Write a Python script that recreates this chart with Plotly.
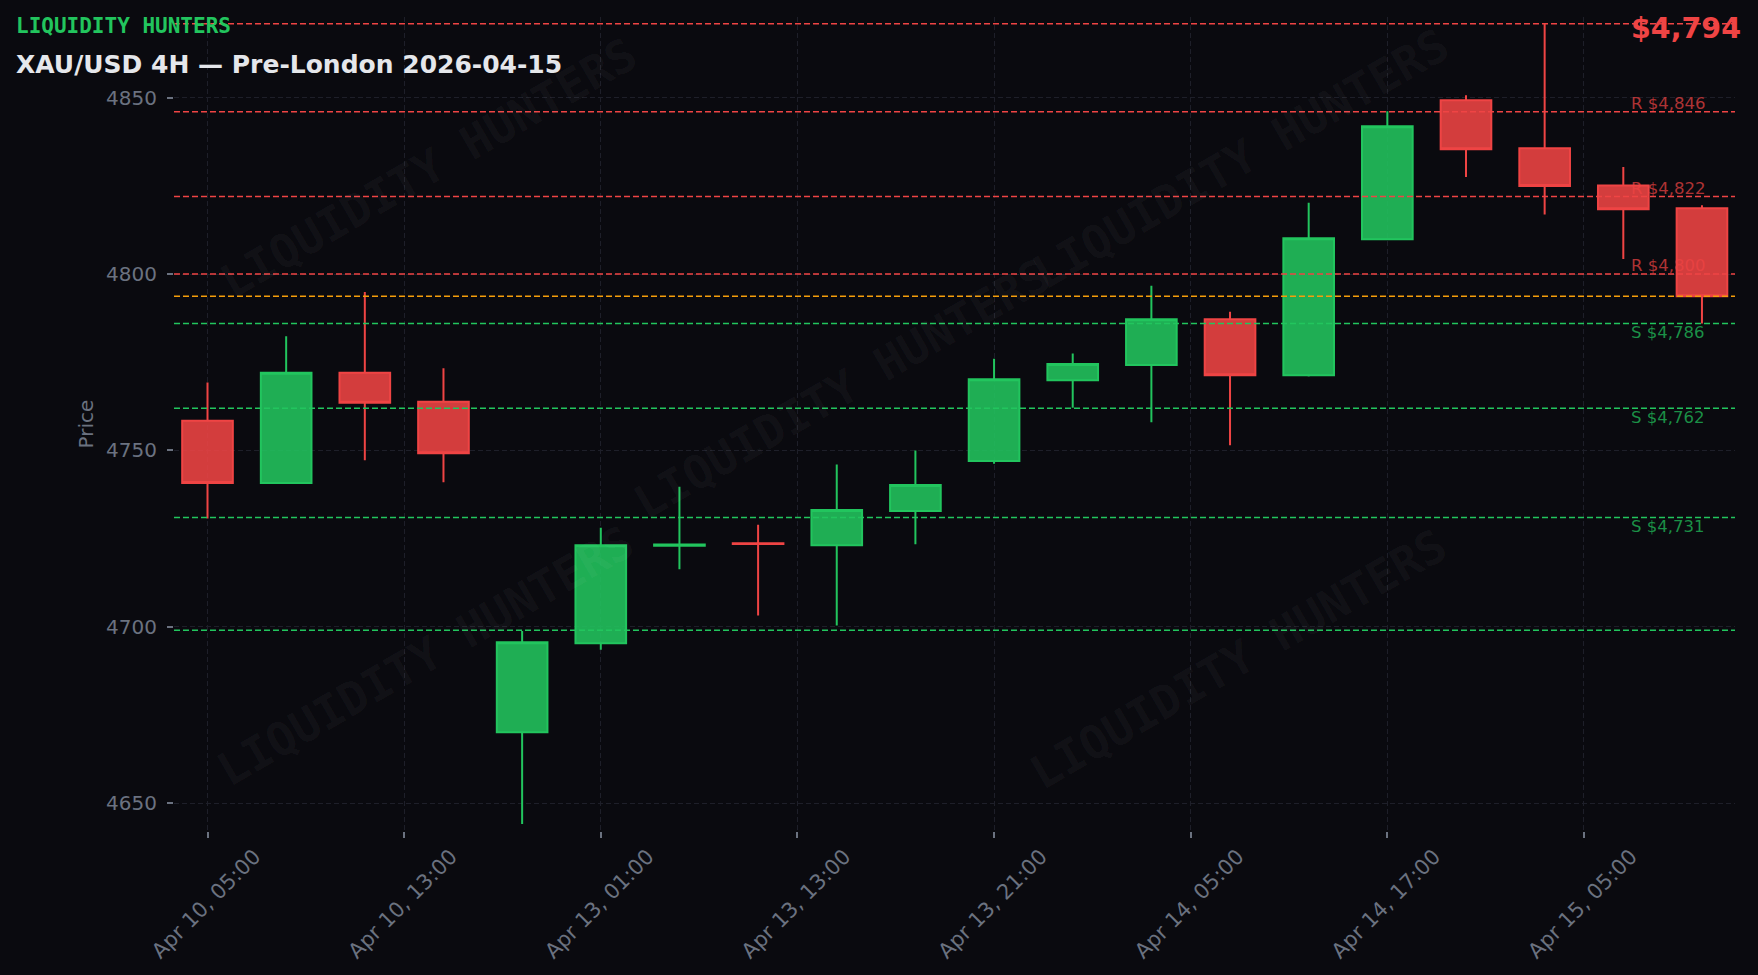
import plotly.graph_objects as go

# ---------------- data ----------------
candle_times = [
    "2026-04-10 05:00", "2026-04-10 09:00", "2026-04-10 13:00", "2026-04-10 17:00",
    "2026-04-12 21:00", "2026-04-13 01:00", "2026-04-13 05:00", "2026-04-13 09:00",
    "2026-04-13 13:00", "2026-04-13 17:00", "2026-04-13 21:00", "2026-04-14 01:00",
    "2026-04-14 05:00", "2026-04-14 09:00", "2026-04-14 13:00", "2026-04-14 17:00",
    "2026-04-14 21:00", "2026-04-15 01:00", "2026-04-15 05:00", "2026-04-15 09:00",
]
opens = [4758.4, 4740.8, 4772.0, 4763.8, 4670.1, 4695.3, 4723.0, 4723.7, 4723.1, 4732.8,
         4747.0, 4769.9, 4774.2, 4787.2, 4771.3, 4809.9, 4849.3, 4835.7, 4825.1, 4818.7]
highs = [4769.3, 4782.4, 4794.9, 4773.3, 4698.8, 4728.1, 4739.7, 4728.9, 4746.0, 4750.0,
         4776.0, 4777.5, 4796.7, 4789.3, 4820.2, 4846.2, 4850.7, 4870.9, 4830.4, 4819.5]
lows = [4730.7, 4740.5, 4747.2, 4741.0, 4644.1, 4693.5, 4716.3, 4703.2, 4700.4, 4723.4,
        4746.2, 4762.1, 4758.0, 4751.5, 4771.0, 4809.6, 4827.5, 4816.9, 4804.3, 4786.0]
closes = [4740.8, 4772.0, 4763.5, 4749.2, 4695.6, 4723.1, 4723.3, 4723.5, 4733.1, 4740.2,
          4770.2, 4774.5, 4787.2, 4771.3, 4810.2, 4841.9, 4835.4, 4825.0, 4818.4, 4793.7]

resistance_levels = [4846, 4822, 4800]
support_levels = [4786, 4762, 4731]
swing_high = 4871
swing_low = 4699
current_price = 4793.7

tick_index = [0, 2.5, 5, 7.5, 10, 12.5, 15, 17.5]
tick_labels = ["Apr 10, 05:00", "Apr 10, 13:00", "Apr 13, 01:00", "Apr 13, 13:00",
               "Apr 13, 21:00", "Apr 14, 05:00", "Apr 14, 17:00", "Apr 15, 05:00"]
y_ticks = [4650, 4700, 4750, 4800, 4850]

brand = "LIQUIDITY HUNTERS"
title_text = "XAU/USD 4H \u2014 Pre-London 2026-04-15"

# watermark placements (paper coords)
watermark_pos = [(0.163, 0.815), (0.683, 0.826), (0.428, 0.5425), (0.161, 0.215), (0.682, 0.211)]

# ---------------- style ----------------
BG = "#0a0a0f"
GRID = "#1e1f29"
AX = "#6b7280"
RED = "#ef4444"
GREEN = "#22c55e"
ORANGE = "#f59e0b"
FONT = "DejaVu Sans"
MONO = "DejaVu Sans Mono"

x_idx = list(range(len(candle_times)))

fig = go.Figure()
fig.add_trace(go.Candlestick(
    x=x_idx, open=opens, high=highs, low=lows, close=closes,
    increasing=dict(line=dict(color=GREEN, width=2), fillcolor="rgba(34,197,94,0.88)"),
    decreasing=dict(line=dict(color=RED, width=2), fillcolor="rgba(239,68,68,0.88)"),
    text=candle_times, hoverinfo="text+y",
))

shapes = []
def hline(v, color):
    shapes.append(dict(type="line", xref="paper", x0=0, x1=1, yref="y", y0=v, y1=v,
                       line=dict(color=color, width=1.5, dash="6px,3px"), layer="above"))

hline(swing_high, RED)
for v in resistance_levels:
    hline(v, RED)
hline(current_price, ORANGE)
for v in support_levels:
    hline(v, GREEN)
hline(swing_low, GREEN)

annotations = []
for (px, py) in watermark_pos:
    annotations.append(dict(text=brand, xref="paper", yref="paper", x=px, y=py,
                            xanchor="center", yanchor="middle", showarrow=False,
                            textangle=-30,
                            font=dict(family=MONO, size=46, color="rgba(255,255,255,0.045)",
                                      weight="bold")))

for v in resistance_levels:
    annotations.append(dict(text=f"R ${v:,.0f}", xref="paper", yref="y", x=0.9321, y=v,
                            xanchor="left", yanchor="middle", yshift=8.5, showarrow=False,
                            font=dict(family=FONT, size=16.5, color="rgba(239,68,68,0.72)")))
for v in support_levels:
    annotations.append(dict(text=f"S ${v:,.0f}", xref="paper", yref="y", x=0.9321, y=v,
                            xanchor="left", yanchor="middle", yshift=-9.3, showarrow=False,
                            font=dict(family=FONT, size=16.5, color="rgba(34,197,94,0.72)")))

annotations.append(dict(text=brand, xref="paper", yref="paper", x=-0.1025, y=0.989,
                        xanchor="left", yanchor="middle", showarrow=False,
                        font=dict(family=MONO, size=21, color=GREEN, weight="bold")))
annotations.append(dict(text=title_text, xref="paper", yref="paper", x=-0.1025, y=0.9416,
                        xanchor="left", yanchor="middle", showarrow=False,
                        font=dict(family=FONT, size=25, color="#e5e7eb", weight="bold")))
annotations.append(dict(text=f"${current_price:,.0f}", xref="paper", yref="paper",
                        x=1.0052, y=0.9861, xanchor="right", yanchor="middle", showarrow=False,
                        font=dict(family=FONT, size=28.5, color=RED, weight="bold")))

fig.update_layout(
    width=1758, height=975,
    paper_bgcolor=BG, plot_bgcolor=BG,
    margin=dict(l=174, r=23, t=17, b=144, autoexpand=False),
    showlegend=False,
    font=dict(family=FONT, color=AX),
    boxgap=0.356, boxgroupgap=0,
    shapes=shapes,
    annotations=annotations,
    xaxis=dict(
        range=[-0.426, 19.42], rangeslider=dict(visible=False), automargin=False,
        tickmode="array", tickvals=tick_index, ticktext=tick_labels,
        tickangle=-45, ticklabelshift=47, ticklabelstandoff=-2,
        ticks="outside", ticklen=6, tickwidth=1.5, tickcolor=AX,
        tickfont=dict(family=FONT, size=21, color=AX),
        showgrid=True, gridcolor=GRID, gridwidth=1, griddash="5px,3px",
        zeroline=False, showline=False,
    ),
    yaxis=dict(
        range=[4642.1, 4872.9], automargin=False,
        tickmode="array", tickvals=y_ticks,
        ticks="outside", ticklen=6, tickwidth=1.5, tickcolor=AX, ticklabelstandoff=6,
        tickfont=dict(family=FONT, size=20, color=AX),
        showgrid=True, gridcolor=GRID, gridwidth=1, griddash="5px,3px",
        zeroline=False, showline=False,
        title=dict(text="Price", font=dict(family=FONT, size=20, color=AX), standoff=7),
    ),
)

fig.write_html(
    "out.html",
    config={"displayModeBar": False},
    post_script="document.body.style.margin='0';document.body.style.background='#0a0a0f';",
)
